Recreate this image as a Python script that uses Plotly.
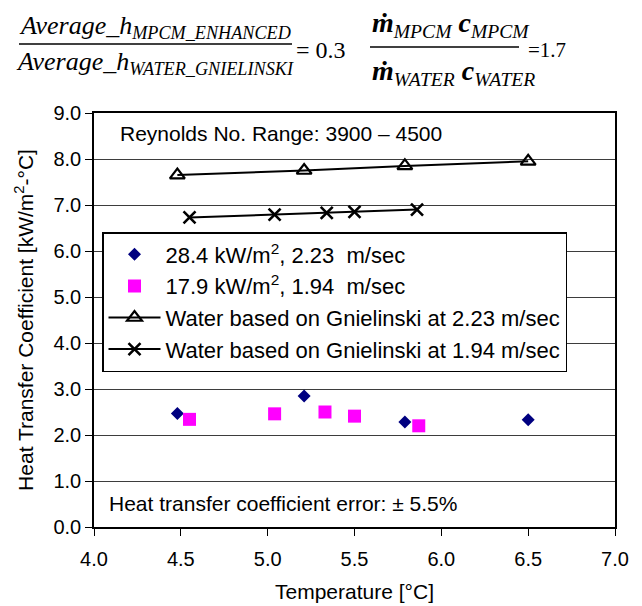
import plotly.graph_objects as go

# ---- data ----
temp_284 = [4.48, 5.21, 5.79, 6.50]
h_284 = [2.47, 2.85, 2.28, 2.33]

temp_179 = [4.55, 5.04, 5.33, 5.50, 5.87]
h_179 = [2.34, 2.46, 2.50, 2.41, 2.20]

temp_w223 = [4.48, 5.21, 5.79, 6.50]
h_w223 = [7.65, 7.75, 7.85, 7.95]

temp_w194 = [4.55, 5.04, 5.34, 5.50, 5.86]
h_w194 = [6.73, 6.79, 6.83, 6.85, 6.90]

names = [
    "28.4 kW/m<sup>2</sup>, 2.23  m/sec",
    "17.9 kW/m<sup>2</sup>, 1.94  m/sec",
    "Water based on Gnielinski at 2.23 m/sec",
    "Water based on Gnielinski at 1.94 m/sec",
]

x_ticks = [4.0, 4.5, 5.0, 5.5, 6.0, 6.5, 7.0]
y_ticks = [0, 1, 2, 3, 4, 5, 6, 7, 8, 9]

W, H = 642, 606
L, R, T, B = 94, 27, 113, 79
PW, PH = W - L - R, H - T - B


def px(xp):
    return (xp - L) / PW


def py(yp):
    return (H - B - yp) / PH


fig = go.Figure()
fig.add_trace(go.Scatter(
    x=temp_284, y=h_284, mode="markers", name=names[0],
    marker=dict(symbol="diamond", size=10, color="#000080"),
))
fig.add_trace(go.Scatter(
    x=temp_179, y=h_179, mode="markers", name=names[1],
    marker=dict(symbol="square", size=13, color="#FF00FF"),
))
fig.add_trace(go.Scatter(
    x=temp_w223, y=h_w223, mode="lines+markers", name=names[2],
    line=dict(color="black", width=2),
    marker=dict(symbol="triangle-up-open", size=13, color="black",
                line=dict(width=2.2, color="black")),
))
fig.add_trace(go.Scatter(
    x=temp_w194, y=h_w194, mode="lines+markers", name=names[3],
    line=dict(color="black", width=2),
    marker=dict(symbol="x-thin", size=12, color="black",
                line=dict(width=2.6, color="black")),
))

serif = "Liberation Serif"
ann = []
ann.append(dict(text="Reynolds No. Range: 3900 \u2013 4500", x=px(118), y=py(133),
                xanchor="left", yanchor="middle", font=dict(size=21)))
ann.append(dict(text="Heat transfer coefficient error: \u00b1 5.5%", x=px(107), y=py(503),
                xanchor="left", yanchor="middle", font=dict(size=21)))
# equation header
ann.append(dict(text="<i>Average_h<sub>MPCM_ENHANCED</sub></i>", x=px(155), y=py(27),
                xanchor="center", yanchor="middle", font=dict(family=serif, size=26)))
ann.append(dict(text="<i>Average_h<sub>WATER_GNIELINSKI</sub></i>", x=px(155), y=py(63),
                xanchor="center", yanchor="middle", font=dict(family=serif, size=26)))
ann.append(dict(text="= 0.3", x=px(321), y=py(50), xanchor="center", yanchor="middle",
                font=dict(family=serif, size=24)))
ann.append(dict(text="<b><i>\u1e41</i></b><sub><i>MPCM</i></sub> <b><i>c</i></b><sub><i>MPCM</i></sub>",
                x=px(370), y=py(25), xanchor="left", yanchor="middle",
                font=dict(family=serif, size=28)))
ann.append(dict(text="<b><i>\u1e41</i></b><sub><i>WATER</i></sub> <b><i>c</i></b><sub><i>WATER</i></sub>",
                x=px(370), y=py(72), xanchor="left", yanchor="middle",
                font=dict(family=serif, size=28)))
ann.append(dict(text="=1.7", x=px(547), y=py(50), xanchor="center", yanchor="middle",
                font=dict(family=serif, size=21)))
for a in ann:
    a.update(xref="paper", yref="paper", showarrow=False)
    a["font"].setdefault("color", "black")

shapes = [
    dict(type="line", xref="paper", yref="paper", x0=px(19), x1=px(292), y0=py(44), y1=py(44),
         line=dict(color="black", width=1.5)),
    dict(type="line", xref="paper", yref="paper", x0=px(370), x1=px(519), y0=py(47), y1=py(47),
         line=dict(color="black", width=1.5)),
]

fig.update_layout(
    width=W, height=H,
    margin=dict(l=L, r=R, t=T, b=B, pad=0, autoexpand=False),
    paper_bgcolor="white", plot_bgcolor="white",
    font=dict(family="Liberation Sans, Arial", size=20, color="black"),
    showlegend=True,
    legend=dict(x=px(102), y=py(232), xanchor="left", yanchor="top",
                bgcolor="white", bordercolor="black", borderwidth=1.5,
                font=dict(size=22, color="black"), itemwidth=52, tracegroupgap=0),
    annotations=ann,
    shapes=shapes,
    xaxis=dict(range=[4.0, 7.0], tickvals=x_ticks, ticktext=[f"{v:.1f}" for v in x_ticks],
               tickfont=dict(size=20, color="black"), ticklabelstandoff=6, automargin=False,
               showgrid=False, zeroline=False, showline=True, linecolor="black", linewidth=1.5,
               mirror=True, ticks="outside", ticklen=7, tickwidth=1.2, tickcolor="black",
               title=dict(text="Temperature [\u00b0C]", font=dict(size=21, color="black"), standoff=16)),
    yaxis=dict(range=[0, 9], tickvals=y_ticks, ticktext=[f"{v:.1f}" for v in y_ticks],
               tickfont=dict(size=20, color="black"), automargin=False,
               showgrid=True, gridcolor="#3d3d3d", gridwidth=1.3, zeroline=False,
               showline=True, linecolor="black", linewidth=1.5, mirror=True,
               ticks="outside", ticklen=7, tickwidth=1.2, tickcolor="black",
               title=dict(text="Heat Transfer Coefficient [kW/m<sup>2</sup>-\u00b0C]",
                          font=dict(size=21, color="black"), standoff=14)),
)

fig.write_html("out.html")
